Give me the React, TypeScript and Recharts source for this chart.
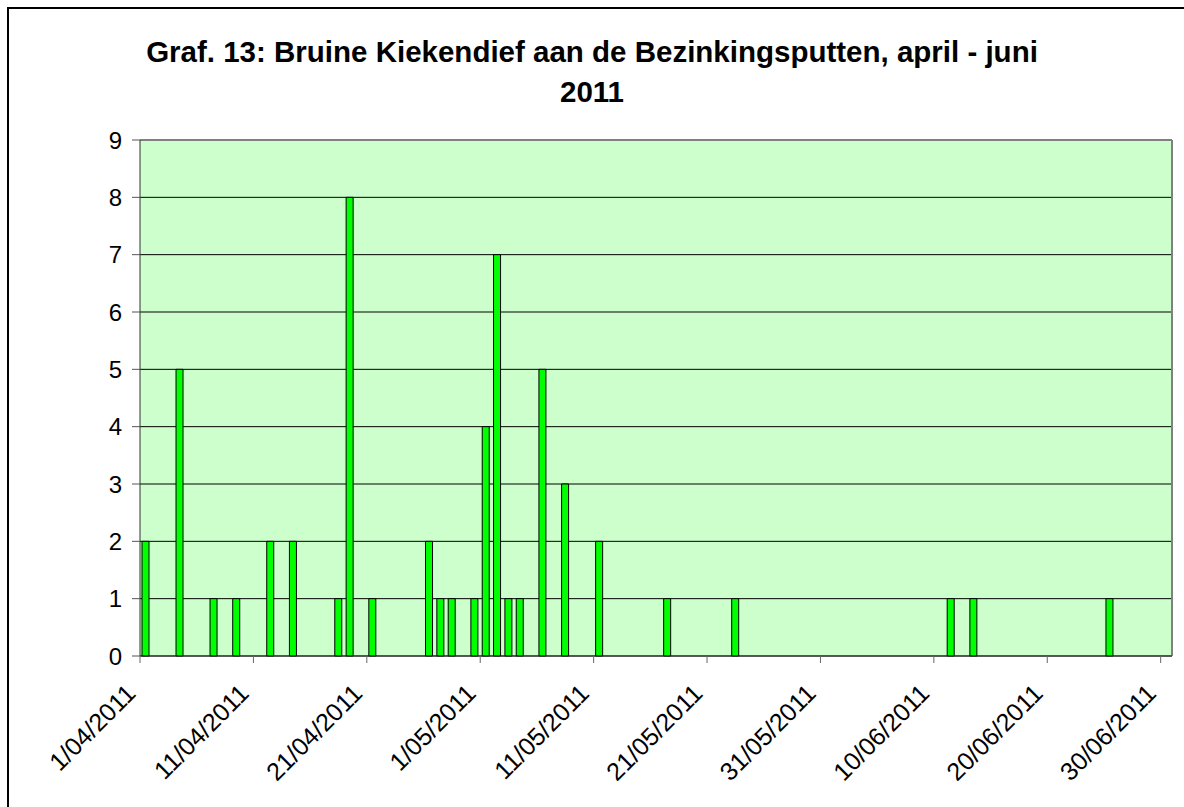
import React from "react";
import { BarChart, Bar, XAxis, YAxis, CartesianGrid, ReferenceLine } from "recharts";

const startDate = "2011-04-01";

const sightingDates = [
  "2011-04-01", "2011-04-04", "2011-04-07", "2011-04-09", "2011-04-12",
  "2011-04-14", "2011-04-18", "2011-04-19", "2011-04-21", "2011-04-26",
  "2011-04-27", "2011-04-28", "2011-04-30", "2011-05-01", "2011-05-02",
  "2011-05-03", "2011-05-04", "2011-05-06", "2011-05-08", "2011-05-11",
  "2011-05-17", "2011-05-23", "2011-06-11", "2011-06-13", "2011-06-25",
];

const counts = [2, 5, 1, 1, 2, 2, 1, 8, 1, 2, 1, 1, 1, 4, 7, 1, 1, 5, 3, 2, 1, 1, 1, 1, 1];

const tickDays = [0, 10, 20, 30, 40, 50, 60, 70, 80, 90];
const tickLabels = [
  "1/04/2011", "11/04/2011", "21/04/2011", "1/05/2011", "11/05/2011",
  "21/05/2011", "31/05/2011", "10/06/2011", "20/06/2011", "30/06/2011",
];
const yTicks = [0, 1, 2, 3, 4, 5, 6, 7, 8, 9];

const FONT = "'Liberation Sans', Arial, sans-serif";

const dayIndex = (iso: string) =>
  Math.round((Date.parse(iso) - Date.parse(startDate)) / 86400000);

// a bar sits in the middle of its day slot (axis runs 1/04 .. end of 30/06)
const data = sightingDates.map((d, i) => ({
  date: d,
  day: dayIndex(d) + 0.5,
  count: counts[i],
}));

function DateTick(props: any) {
  const { x, y, payload } = props;
  const label = tickLabels[tickDays.indexOf(payload.value)];
  const ax = x - 3;
  const ay = y + 30;
  return (
    <text
      x={ax}
      y={ay}
      transform={`rotate(-45 ${ax} ${ay})`}
      textAnchor="end"
      fontFamily={FONT}
      fontSize={25}
      fill="#000"
    >
      {label}
    </text>
  );
}

export default function App() {
  return (
    <div style={{ position: "relative", width: 1184, height: 807, background: "#fff", overflow: "hidden" }}>
      <style>{`body{margin:0;overflow:hidden}`}</style>
      <BarChart
        width={1184}
        height={807}
        data={data}
        margin={{ top: 140, right: 12, left: 0, bottom: 91 }}
      >
        <CartesianGrid vertical={false} stroke="#000" fill="#CCFFCC" strokeOpacity={1} />
        <XAxis
          dataKey="day"
          type="number"
          domain={[0, 91]}
          ticks={tickDays}
          interval={0}
          allowDataOverflow
          height={60}
          tickSize={7}
          axisLine={{ stroke: "#333" }}
          tickLine={{ stroke: "#666" }}
          tick={(p: any) => <DateTick {...p} />}
        />
        <YAxis
          domain={[0, 9]}
          ticks={yTicks}
          interval={0}
          width={140}
          tickSize={8}
          tickMargin={10}
          axisLine={{ stroke: "#333" }}
          tickLine={{ stroke: "#555" }}
          tick={{ fill: "#000", fontSize: 24, fontFamily: FONT }}
        />
        <ReferenceLine y={9} stroke="#808080" strokeWidth={2} />
        <ReferenceLine x={91} stroke="#808080" strokeWidth={2} />
        <Bar
          dataKey="count"
          fill="#00FF00"
          stroke="#000"
          strokeWidth={1}
          barSize={7}
          isAnimationActive={false}
        />
      </BarChart>
      <div
        style={{
          position: "absolute",
          left: 7,
          top: 7,
          width: 1200,
          height: 820,
          borderLeft: "2px solid #000",
          borderTop: "2px solid #000",
          pointerEvents: "none",
        }}
      />
      <div
        style={{
          position: "absolute",
          left: 0,
          top: 32,
          width: 1184,
          textAlign: "center",
          fontFamily: FONT,
          fontWeight: "bold",
          fontSize: 29.5,
          lineHeight: "40px",
          color: "#000",
        }}
      >
        <div>Graf. 13: Bruine Kiekendief aan de Bezinkingsputten, april - juni</div>
        <div>2011</div>
      </div>
    </div>
  );
}
